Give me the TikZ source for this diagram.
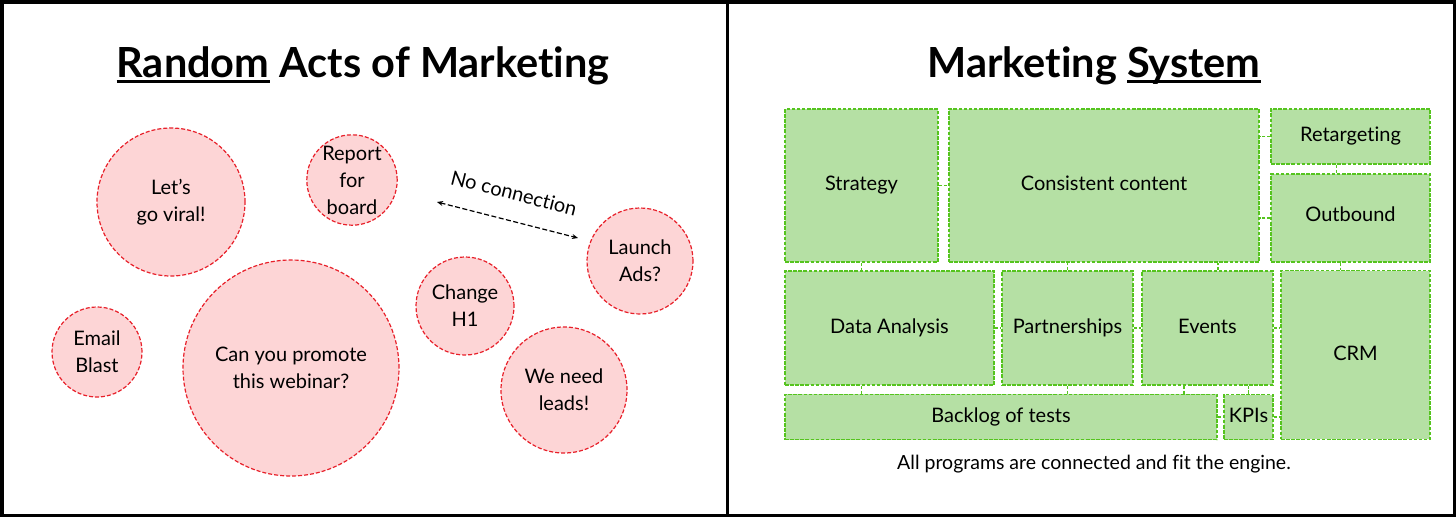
\documentclass[tikz,border=0pt]{standalone}
\usepackage{fontspec}
\setmainfont{Lato}[Ligatures=NoCommon]
\usetikzlibrary{arrows.meta}
\definecolor{gfill}{HTML}{B5E0A4}
\definecolor{gline}{HTML}{55C41E}
\definecolor{rfill}{HTML}{FDD5D6}
\definecolor{rline}{HTML}{E8202A}
\newcommand{\ulword}[1]{\setbox0\hbox{#1}\rlap{\rule[-5.5pt]{\wd0}{3pt}}\box0\relax}
\tikzset{
  gbox/.style={rectangle, draw=gline, fill=gfill, line width=1.3pt, dash pattern=on 3.6pt off 1.5pt, inner sep=0pt, font=\fontsize{20}{24}\selectfont, text=black, text height=14.5pt, text depth=4.5pt},
  conn/.style={draw=gline, line width=1.3pt, dash pattern=on 3.6pt off 1.5pt},
  rcirc/.style={circle, draw=rline, fill=rfill, line width=1.2pt, dash pattern=on 4pt off 2pt, inner sep=0pt, align=center, font=\fontsize{20}{27}\selectfont},
  ttl/.style={anchor=base, font=\fontsize{41.5}{48}\selectfont\bfseries},
}
\begin{document}
\begin{tikzpicture}[x=1pt,y=-1pt]
\useasboundingbox (0,0) rectangle (1456,517);
\fill[white] (0,0) rectangle (1456,517);
\draw[line width=3.5pt] (1.75,1.75) rectangle (1454.25,515.25);
\draw[line width=3pt] (727.5,0) -- (727.5,517);
% titles
\node[ttl] (t1) at (363,77.7) {\ulword{Random} Acts of Marketing};
\node[ttl] (t2) at (1094,77.7) {Marketing \ulword{System}};
% circles
\node[rcirc, minimum size=148pt] (viral) at (171,202) {Let’s\\go viral!};
\node[rcirc, minimum size=90pt] (report) at (352,180) {Report\\for\\board};
\node[rcirc, minimum size=106pt] (launch) at (640,261) {Launch\\Ads?};
\node[rcirc, minimum size=98pt] (change) at (465,306) {Change\\H1};
\node[rcirc, minimum size=90pt] (email) at (97,352) {Email\\Blast};
\node[rcirc, minimum size=216pt] (webinar) at (291,368) {Can you promote\\this webinar?};
\node[rcirc, minimum size=126pt] (leads) at (564,390) {We need\\leads!};
% no connection arrow
\coordinate (a1) at (437,202);
\coordinate (a2) at (578,238);
\draw[line width=1.2pt, dash pattern=on 5pt off 2.5pt, {Stealth[length=6pt,width=5pt]}-{Stealth[length=6pt,width=5pt]}] (a1) -- (a2);
\node[rotate=-14.3, font=\fontsize{20}{24}\selectfont] (nc) at (514,193) {No connection};
% boxes
\node[gbox, minimum width=153pt, minimum height=153pt] (strategy) at (861.5,185.5) {Strategy};
\node[gbox, minimum width=310pt, minimum height=153pt] (consistent) at (1104,185.5) {Consistent content};
\node[gbox, minimum width=159pt, minimum height=55pt] (retarget) at (1350.5,136.5) {Retargeting};
\node[gbox, minimum width=159pt, minimum height=88pt] (outbound) at (1350.5,218) {\raisebox{2pt}{Outbound}};
\node[gbox, minimum width=209pt, minimum height=114pt] (data) at (889.5,328) {Data Analysis};
\node[gbox, minimum width=131pt, minimum height=114pt] (partner) at (1067.5,328) {Partnerships};
\node[gbox, minimum width=131pt, minimum height=114pt] (events) at (1207.5,328) {Events};
\node[gbox, minimum width=149pt, minimum height=168.5pt] (crm) at (1355.5,355) {CRM};
\node[gbox, minimum width=432pt, minimum height=45.5pt] (backlog) at (1001,417) {Backlog of tests};
\node[gbox, minimum width=49pt, minimum height=45pt] (kpi) at (1248.5,417) {KPIs};
% connectors
\draw[conn] (strategy.east) -- (consistent.west);
\draw[conn] (retarget.west) -- (retarget.west -| consistent.east);
\draw[conn] (outbound.west) -- (outbound.west -| consistent.east);
\draw[conn] ([xshift=-14pt]retarget.south) -- ([xshift=-14pt]retarget.south |- outbound.north);
\draw[conn] ([xshift=-10pt]outbound.south) -- ([xshift=-10pt]outbound.south |- crm.north);
\draw[conn] (strategy.south) -- (strategy.south |- data.north);
\draw[conn] (partner.north) -- (partner.north |- consistent.south);
\draw[conn] ([xshift=10.5pt]events.north) -- ([xshift=10.5pt]events.north |- consistent.south);
\draw[conn] (data.east) -- (partner.west);
\draw[conn] (partner.east) -- (events.west);
\draw[conn] (events.east) -- (events.east -| crm.west);
\draw[conn] (strategy.south |- data.south) -- (strategy.south |- backlog.north);
\draw[conn] (partner.south) -- (partner.south |- backlog.north);
\draw[conn] ([xshift=-23.5pt]events.south) -- ([xshift=-23.5pt]events.south |- backlog.north);
\draw[conn] (kpi.north) -- (kpi.north |- events.south);
\draw[conn] (backlog.east) -- (kpi.west);
\draw[conn] (kpi.east) -- (kpi.east -| crm.west);
% caption
\node[font=\fontsize{19.5}{22}\selectfont] (cap) at (1094,464) {All programs are connected and fit the engine.};
\end{tikzpicture}
\end{document}
